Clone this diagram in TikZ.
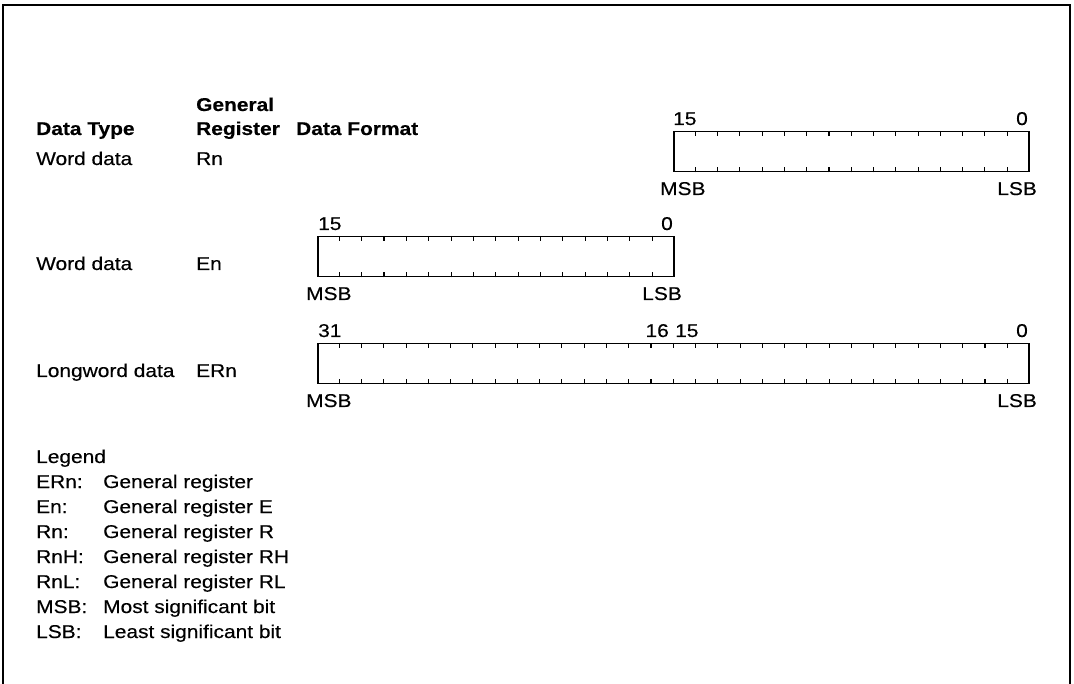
\documentclass[tikz,border=0pt]{standalone}
\usepackage{fontspec}
\setmainfont[FakeStretch=1.13,FakeBold=0.35,BoldFeatures={FakeStretch=1.13}]{Liberation Sans}
\usetikzlibrary{calc}
\begin{document}
\begin{tikzpicture}[x=1pt,y=-1pt,
  font=\fontsize{18.5}{21}\selectfont,
  lbl/.style={inner sep=0pt, anchor=base west},
  lblr/.style={inner sep=0pt, anchor=base east},
  hdr/.style={inner sep=0pt, anchor=base west, font=\fontsize{18.5}{21}\selectfont\bfseries},
  regbox/.style={draw, line width=1.5pt, inner sep=0pt, anchor=north west},
  bittick/.style={line width=1.1pt},
  frame/.style={line width=2.6pt}]
\useasboundingbox (0,0) rectangle (1074,684);
\draw[frame] (3,684) -- (3,5) -- (1070,5) -- (1070,684);
% headers
\node[hdr] (h1) at (36,135) {Data Type};
\node[hdr] (h2a) at (196,111) {General};
\node[hdr] (h2b) at (196,135) {Register};
\node[hdr] (h3) at (296,135) {Data Format};
% row labels
\node[lbl] (t1) at (36,165) {Word data};
\node[lbl] (g1) at (196,165) {Rn};
\node[lbl] (t2) at (36,270) {Word data};
\node[lbl] (g2) at (196,270) {En};
\node[lbl] (t3) at (36,377) {Longword data};
\node[lbl] (g3) at (196,377) {ERn};
% register 1
\node[regbox, minimum width=355pt, minimum height=40pt] (r1) at (673,131) {};
\foreach \k in {1,...,15}{
  \draw[bittick] ($(r1.north west)!\k/16!(r1.north east)$) -- ++(0,5);
  \draw[bittick] ($(r1.south west)!\k/16!(r1.south east)$) -- ++(0,-5);
}
\node[lbl] (r1a) at (673,125) {15};
\node[lblr] (r1b) at (1028,125) {0};
\node[lbl] (r1m) at (660,195) {MSB};
\node[lblr] (r1l) at (1037,195) {LSB};
% register 2
\node[regbox, minimum width=356pt, minimum height=40pt] (r2) at (317,236) {};
\foreach \k in {1,...,15}{
  \draw[bittick] ($(r2.north west)!\k/16!(r2.north east)$) -- ++(0,5);
  \draw[bittick] ($(r2.south west)!\k/16!(r2.south east)$) -- ++(0,-5);
}
\node[lbl] (r2a) at (318,230) {15};
\node[lblr] (r2b) at (673,230) {0};
\node[lbl] (r2m) at (306,300) {MSB};
\node[lblr] (r2l) at (682,300) {LSB};
% register 3
\node[regbox, minimum width=711pt, minimum height=40pt] (r3) at (317,343) {};
\foreach \k in {1,...,31}{
  \draw[bittick] ($(r3.north west)!\k/32!(r3.north east)$) -- ++(0,5);
  \draw[bittick] ($(r3.south west)!\k/32!(r3.south east)$) -- ++(0,-5);
}
\node[lbl] (r3a) at (318,337) {31};
\node[lblr] (r3c) at (669,337) {16};
\node[lbl] (r3d) at (675,337) {15};
\node[lblr] (r3b) at (1028,337) {0};
\node[lbl] (r3m) at (306,407) {MSB};
\node[lblr] (r3l) at (1037,407) {LSB};
% legend
\node[lbl] (lg) at (36,463) {Legend};
\node[lbl] (a1) at (36,488) {ERn:};  \node[lbl] (d1) at (103,488) {General register};
\node[lbl] (a2) at (36,513) {En:};   \node[lbl] (d2) at (103,513) {General register E};
\node[lbl] (a3) at (36,538) {Rn:};   \node[lbl] (d3) at (103,538) {General register R};
\node[lbl] (a4) at (36,563) {RnH:};  \node[lbl] (d4) at (103,563) {General register RH};
\node[lbl] (a5) at (36,588) {RnL:};  \node[lbl] (d5) at (103,588) {General register RL};
\node[lbl] (a6) at (36,613) {MSB:};  \node[lbl] (d6) at (103,613) {Most significant bit};
\node[lbl] (a7) at (36,638) {LSB:};  \node[lbl] (d7) at (103,638) {Least significant bit};
\end{tikzpicture}
\end{document}
